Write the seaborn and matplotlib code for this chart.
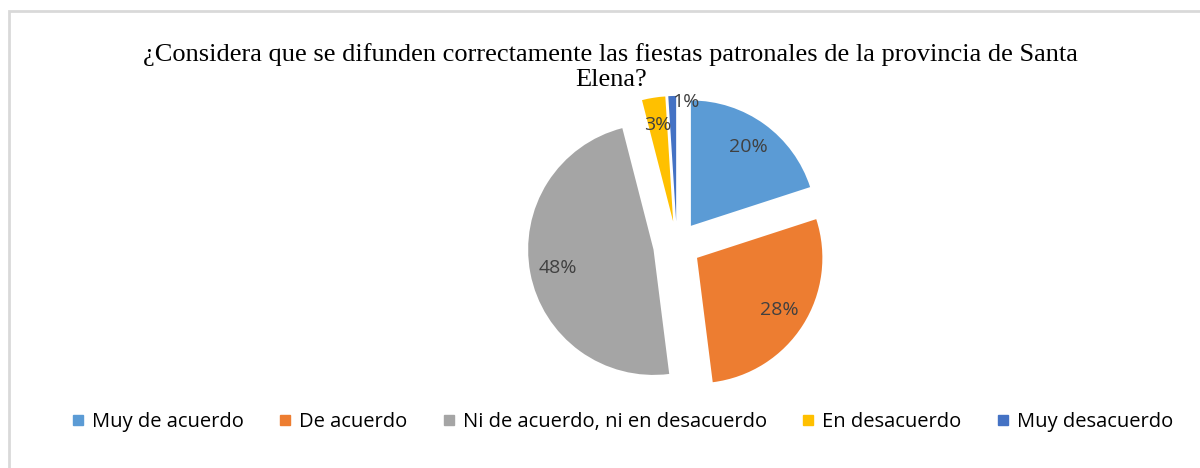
import matplotlib
matplotlib.use("Agg")
import numpy as np
import matplotlib.pyplot as plt
from matplotlib.patches import Rectangle
from matplotlib.lines import Line2D
import seaborn as sns

# data
categories = ["Muy de acuerdo", "De acuerdo", "Ni de acuerdo, ni en desacuerdo",
              "En desacuerdo", "Muy desacuerdo"]
values = [20, 28, 48, 3, 1]
colors = ["#5B9BD5", "#ED7D31", "#A5A5A5", "#FFC000", "#4472C4"]
title = "¿Considera que se difunden correctamente las fiestas patronales de la provincia de Santa\nElena?"

sns.set_theme(style="white")
plt.rcParams["font.family"] = ["Open Sans", "DejaVu Sans"]

fig = plt.figure(figsize=(12, 4.68), dpi=100)

# light frame around the chart area
fig.patches.append(Rectangle((9 / 1200, -0.05), 1.1, 1.05 - 11 / 468,
                             transform=fig.transFigure, fill=False,
                             edgecolor="#D9D9D9", linewidth=2))

# pie axes: center ~ (677, 245) px, radius ~125 px
ax = fig.add_axes([501.4 / 1200, 47.4 / 468, 351 / 1200, 351 / 468])
wedges, texts, autotexts = ax.pie(
    values, colors=colors, startangle=90, counterclock=False,
    explode=[0.19] * len(values), autopct="%1.0f%%", pctdistance=0.78,
    textprops={"fontsize": 14, "color": "#404040"},
    wedgeprops={"linewidth": 0})

# the tiny last slice gets its label pushed outwards, like Excel does
w = wedges[-1]
mid = np.deg2rad((w.theta1 + w.theta2) / 2)
cx, cy = w.center
autotexts[-1].set_position((cx + 0.95 * np.cos(mid), cy + 0.95 * np.sin(mid)))
autotexts[-1].set_ha("left")

ax.set_xlim(-1.4, 1.4)
ax.set_ylim(-1.4, 1.4)
ax.set_aspect("auto")
ax.axis("off")

fig.text(0.509, 1 - 67 / 468, title, ha="center", va="center",
         fontsize=19, family=["Liberation Serif"], color="black",
         linespacing=1.12)

handles = [Line2D([0], [0], marker="s", linestyle="", markersize=7,
                  markerfacecolor=c, markeredgecolor=c) for c in colors]
fig.legend(handles, categories, loc="center", bbox_to_anchor=(0.518, 1 - 422 / 468),
           ncol=5, frameon=False, prop={"family": "Open Sans", "size": 14.5},
           handlelength=0.8, handletextpad=0.3, columnspacing=1.65,
           labelcolor="black")

fig.savefig("out.png", dpi=100)
